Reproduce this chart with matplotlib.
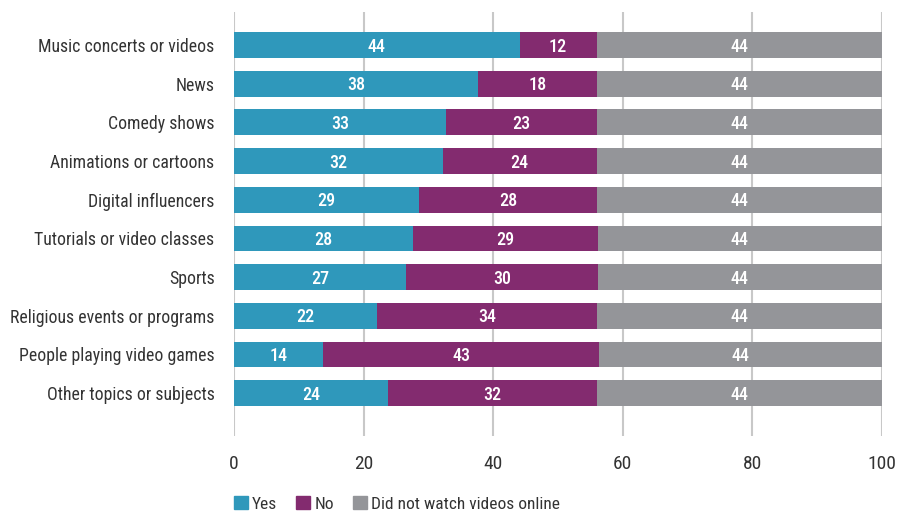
import matplotlib
matplotlib.use('Agg')
import matplotlib.pyplot as plt
from matplotlib import font_manager
from matplotlib.patches import Patch

# pick a narrow face if one is installed
names = {f.name for f in font_manager.fontManager.ttflist}
narrow = [n for n in ['Liberation Sans Narrow', 'Roboto Condensed', 'Open Sans Condensed',
                      'DejaVu Sans Condensed'] if n in names]
plt.rcParams['font.family'] = narrow[:1] + ['Roboto', 'DejaVu Sans']
plt.rcParams['font.stretch'] = 'condensed'

# data (percent)
categories = [
    "Music concerts or videos",
    "News",
    "Comedy shows",
    "Animations or cartoons",
    "Digital influencers",
    "Tutorials or video classes",
    "Sports",
    "Religious events or programs",
    "People playing video games",
    "Other topics or subjects",
]
yes = [44.1, 37.7, 32.7, 32.2, 28.6, 27.6, 26.6, 22.1, 13.8, 23.8]
no = [11.9, 18.3, 23.3, 23.8, 27.5, 28.6, 29.6, 33.9, 42.6, 32.2]
did_not = [100 - a - b for a, b in zip(yes, no)]
series_names = ["Yes", "No", "Did not watch videos online"]
xticks = [0, 20, 40, 60, 80, 100]

blue = '#2f98bb'
purple = '#832b6f'
grey = '#949599'
text_color = '#333333'

fig = plt.figure(figsize=(9.02, 5.16), dpi=100)
ax = fig.add_axes([234 / 902, 1 - 436 / 516, (881.7 - 234) / 902, (436 - 12) / 516])

y = list(range(len(categories)))
h = 0.665
left = [0] * len(y)
for vals, col in zip([yes, no, did_not], [blue, purple, grey]):
    bars = ax.barh(y, vals, left=left, height=h, color=col, zorder=3)
    for b, v in zip(bars, vals):
        ax.text(b.get_x() + b.get_width() / 2, b.get_y() + b.get_height() / 2 + 0.04,
                f"{v:.0f}", ha='center', va='center', color='white',
                fontsize=13, fontweight='medium', zorder=4)
    left = [l + v for l, v in zip(left, vals)]

ax.set_xlim(0, 100)
ax.set_ylim(9 + 1.11, -0.853)
ax.set_xticks(xticks)
ax.set_xticklabels([str(t) for t in xticks])
ax.set_yticks(y)
ax.set_yticklabels(categories)

ax.grid(axis='x', color='#c8c8c8', linewidth=1.5, zorder=0)
ax.tick_params(axis='x', length=0, pad=14, labelsize=14, colors=text_color)
ax.tick_params(axis='y', length=0, pad=14, labelsize=12.8 if narrow else 11, colors=text_color)
for s in ax.spines.values():
    s.set_visible(False)

handles = [Patch(color=c) for c in [blue, purple, grey]]
leg = fig.legend(handles, series_names, loc='lower left', ncol=3,
                 bbox_to_anchor=(218 / 902, -0.022), frameon=False,
                 handlelength=0.8, handleheight=0.8, handletextpad=0.25,
                 columnspacing=1.1, fontsize=12.5, labelcolor=text_color)

fig.savefig('out.png', dpi=100)
